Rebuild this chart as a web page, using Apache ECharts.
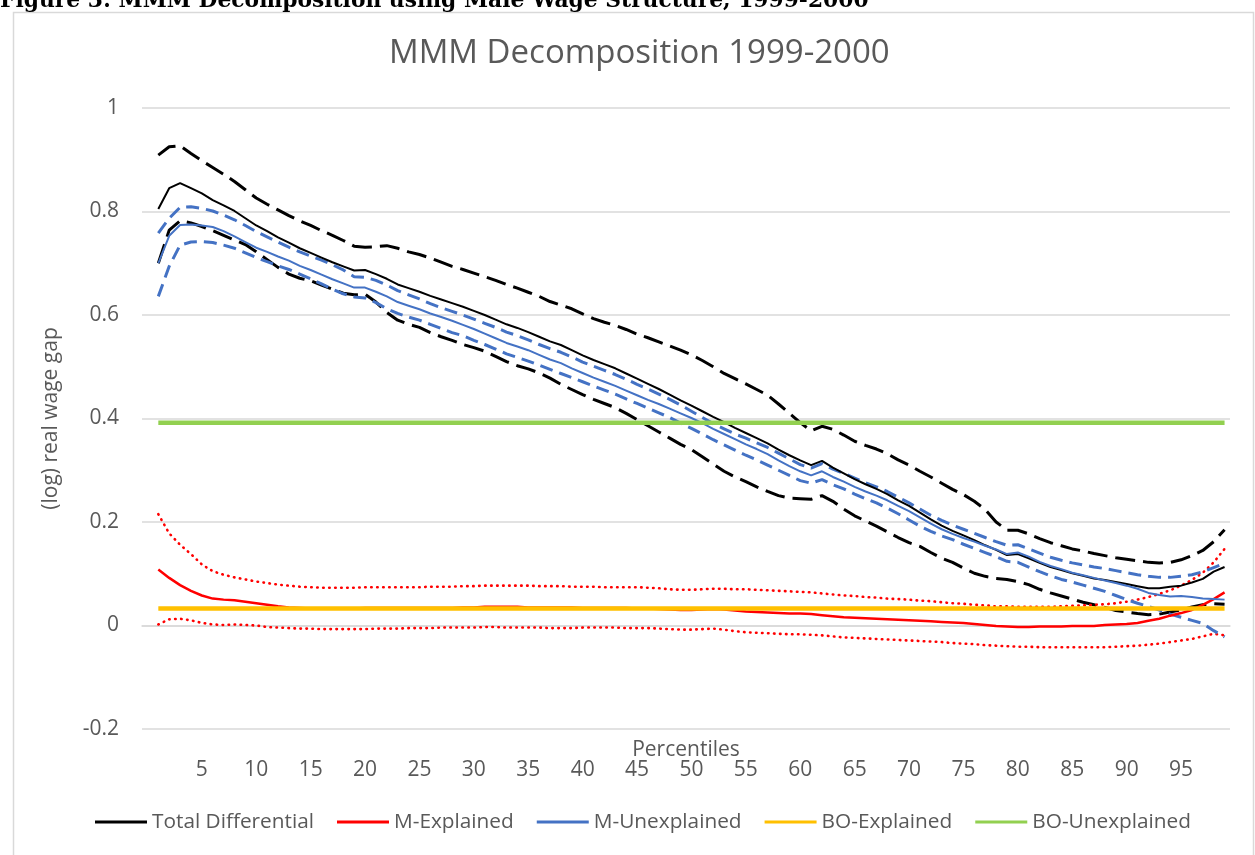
<!DOCTYPE html>
<html>
<head>
<meta charset="utf-8">
<script src="https://cdn.jsdelivr.net/npm/echarts@6/dist/echarts.min.js"></script>
<style>
html,body{margin:0;padding:0;background:#fff;}
#wrap{position:relative;width:1255px;height:855px;overflow:hidden;}
#chart{position:absolute;left:0;top:0;width:1255px;height:855px;}
#caption{position:absolute;left:0;top:-11px;font-family:"DejaVu Serif",serif;font-weight:bold;font-size:21.8px;line-height:22px;color:#000;white-space:nowrap;z-index:2;}
</style>
</head>
<body>
<div id="wrap">
<div id="chart"></div>
<div id="caption">Figure 3: MMM Decomposition using Male Wage Structure, 1999-2000</div>
</div>
<script>
const chartTitle = 'MMM Decomposition 1999-2000';
const yAxisTitle = '(log) real wage gap';
const xAxisTitle = 'Percentiles';
const percentiles = [1,2,3,4,5,6,7,8,9,10,11,12,13,14,15,16,17,18,19,20,21,22,23,24,25,26,27,28,29,30,31,32,33,34,35,36,37,38,39,40,41,42,43,44,45,46,47,48,49,50,51,52,53,54,55,56,57,58,59,60,61,62,63,64,65,66,67,68,69,70,71,72,73,74,75,76,77,78,79,80,81,82,83,84,85,86,87,88,89,90,91,92,93,94,95,96,97,98,99];
const xTickLabels = ['5','10','15','20','25','30','35','40','45','50','55','60','65','70','75','80','85','90','95'];

const totalDiff = [0.805,0.845,0.855,0.845,0.835,0.822,0.812,0.801,0.787,0.773,
0.762,0.750,0.740,0.729,0.720,0.711,0.702,0.694,0.686,0.687,
0.679,0.670,0.659,0.652,0.645,0.637,0.630,0.623,0.616,0.608,
0.600,0.591,0.582,0.575,0.567,0.558,0.549,0.542,0.532,0.522,
0.513,0.505,0.497,0.487,0.477,0.467,0.457,0.446,0.435,0.425,
0.414,0.403,0.393,0.382,0.372,0.362,0.352,0.340,0.329,0.319,
0.310,0.318,0.305,0.294,0.283,0.273,0.264,0.254,0.242,0.231,
0.218,0.205,0.193,0.183,0.174,0.165,0.155,0.146,0.136,0.138,
0.130,0.121,0.113,0.107,0.101,0.096,0.091,0.088,0.084,0.080,
0.076,0.072,0.072,0.075,0.077,0.083,0.090,0.104,0.113];

const totalUpper = [0.909,0.925,0.927,0.912,0.898,0.885,0.872,0.858,0.842,0.826,
0.814,0.803,0.792,0.782,0.773,0.763,0.754,0.744,0.733,0.731,
0.732,0.734,0.729,0.722,0.717,0.710,0.702,0.694,0.688,0.681,
0.674,0.667,0.659,0.652,0.644,0.636,0.626,0.619,0.612,0.602,
0.593,0.586,0.580,0.572,0.563,0.556,0.548,0.540,0.532,0.523,
0.512,0.500,0.487,0.477,0.467,0.456,0.445,0.428,0.410,0.392,
0.376,0.385,0.379,0.368,0.356,0.348,0.341,0.332,0.320,0.310,
0.298,0.287,0.275,0.263,0.253,0.240,0.224,0.200,0.184,0.184,
0.177,0.168,0.160,0.154,0.148,0.144,0.139,0.135,0.131,0.128,
0.125,0.122,0.121,0.122,0.127,0.135,0.145,0.162,0.185];

const totalLower = [0.700,0.764,0.782,0.778,0.771,0.763,0.754,0.745,0.736,0.722,
0.707,0.692,0.679,0.671,0.666,0.658,0.650,0.642,0.639,0.640,
0.625,0.605,0.590,0.582,0.576,0.566,0.558,0.551,0.543,0.537,
0.530,0.520,0.510,0.502,0.496,0.488,0.478,0.466,0.456,0.446,
0.437,0.429,0.421,0.410,0.398,0.386,0.374,0.362,0.350,0.340,
0.326,0.312,0.298,0.287,0.278,0.268,0.259,0.251,0.246,0.245,
0.244,0.251,0.240,0.225,0.212,0.202,0.192,0.181,0.170,0.160,
0.153,0.141,0.130,0.122,0.111,0.101,0.095,0.091,0.089,0.085,
0.079,0.070,0.063,0.057,0.051,0.045,0.040,0.035,0.029,0.026,
0.023,0.021,0.022,0.026,0.030,0.036,0.040,0.042,0.041];

const mExplained = [0.108,0.092,0.078,0.067,0.058,0.052,0.050,0.049,0.046,0.043,
0.040,0.037,0.035,0.034,0.033,0.033,0.033,0.033,0.033,0.034,
0.034,0.034,0.034,0.034,0.034,0.034,0.034,0.034,0.035,0.035,
0.036,0.036,0.036,0.036,0.035,0.035,0.035,0.035,0.035,0.034,
0.034,0.034,0.034,0.034,0.033,0.033,0.032,0.031,0.030,0.030,
0.031,0.032,0.031,0.029,0.027,0.026,0.025,0.024,0.023,0.023,
0.022,0.020,0.018,0.016,0.015,0.014,0.013,0.012,0.011,0.010,
0.009,0.008,0.007,0.006,0.005,0.003,0.001,-0.001,-0.002,-0.003,
-0.003,-0.002,-0.002,-0.002,-0.001,-0.001,-0.001,0.001,0.002,0.003,
0.005,0.009,0.013,0.019,0.024,0.030,0.040,0.051,0.064];

const mExplUpper = [0.215,0.178,0.156,0.138,0.118,0.105,0.098,0.093,0.089,0.085,
0.082,0.079,0.077,0.075,0.074,0.073,0.073,0.073,0.073,0.074,
0.074,0.074,0.074,0.074,0.074,0.075,0.075,0.075,0.076,0.076,
0.077,0.077,0.077,0.077,0.077,0.076,0.076,0.076,0.075,0.075,
0.075,0.074,0.074,0.074,0.074,0.073,0.072,0.070,0.069,0.069,
0.070,0.071,0.071,0.070,0.070,0.069,0.068,0.067,0.066,0.065,
0.064,0.062,0.060,0.058,0.057,0.055,0.054,0.052,0.051,0.050,
0.048,0.047,0.045,0.043,0.042,0.040,0.039,0.037,0.037,0.036,
0.036,0.036,0.036,0.037,0.038,0.039,0.040,0.041,0.043,0.046,
0.050,0.055,0.061,0.068,0.077,0.088,0.102,0.122,0.148];

const mExplLower = [0.002,0.012,0.013,0.010,0.005,0.002,0.001,0.002,0.001,0.000,
-0.003,-0.004,-0.005,-0.006,-0.006,-0.007,-0.007,-0.007,-0.007,-0.007,
-0.006,-0.006,-0.006,-0.005,-0.005,-0.005,-0.004,-0.004,-0.004,-0.004,
-0.003,-0.003,-0.004,-0.004,-0.004,-0.004,-0.005,-0.005,-0.005,-0.004,
-0.004,-0.004,-0.004,-0.005,-0.005,-0.005,-0.006,-0.007,-0.008,-0.008,
-0.007,-0.006,-0.008,-0.011,-0.013,-0.014,-0.015,-0.016,-0.017,-0.017,
-0.018,-0.019,-0.021,-0.023,-0.024,-0.025,-0.026,-0.027,-0.028,-0.029,
-0.030,-0.031,-0.032,-0.034,-0.035,-0.036,-0.038,-0.039,-0.040,-0.041,
-0.041,-0.042,-0.042,-0.042,-0.042,-0.042,-0.042,-0.042,-0.041,-0.040,
-0.039,-0.037,-0.035,-0.032,-0.029,-0.026,-0.021,-0.016,-0.019];

const mUnexplained = [0.700,0.753,0.774,0.775,0.773,0.770,0.762,0.752,0.741,0.730,
0.722,0.713,0.705,0.695,0.687,0.678,0.669,0.661,0.653,0.653,
0.645,0.636,0.625,0.618,0.611,0.603,0.596,0.589,0.581,0.573,
0.564,0.555,0.546,0.539,0.532,0.523,0.514,0.507,0.497,0.488,
0.479,0.471,0.463,0.454,0.445,0.436,0.428,0.419,0.410,0.401,
0.391,0.380,0.370,0.360,0.350,0.341,0.331,0.319,0.308,0.298,
0.290,0.298,0.287,0.278,0.268,0.259,0.251,0.242,0.231,0.221,
0.209,0.197,0.186,0.177,0.169,0.162,0.154,0.147,0.138,0.141,
0.133,0.123,0.115,0.109,0.102,0.097,0.092,0.087,0.082,0.077,
0.071,0.063,0.059,0.056,0.057,0.055,0.052,0.051,0.050];

const mUnexplUpper = [0.758,0.787,0.808,0.809,0.806,0.801,0.793,0.784,0.773,0.761,
0.751,0.741,0.731,0.722,0.714,0.706,0.697,0.687,0.674,0.673,
0.667,0.658,0.647,0.639,0.631,0.622,0.614,0.607,0.600,0.592,
0.584,0.576,0.567,0.560,0.552,0.543,0.535,0.528,0.519,0.509,
0.501,0.493,0.485,0.476,0.466,0.457,0.447,0.437,0.426,0.414,
0.402,0.390,0.380,0.370,0.362,0.353,0.344,0.333,0.322,0.311,
0.304,0.313,0.302,0.294,0.285,0.276,0.268,0.259,0.248,0.237,
0.225,0.213,0.203,0.194,0.186,0.178,0.170,0.162,0.155,0.156,
0.148,0.140,0.132,0.126,0.121,0.117,0.113,0.110,0.106,0.102,
0.098,0.095,0.093,0.093,0.095,0.098,0.104,0.112,0.120];

const mUnexplLower = [0.636,0.694,0.735,0.741,0.742,0.740,0.735,0.729,0.720,0.711,
0.703,0.695,0.688,0.679,0.670,0.660,0.650,0.641,0.635,0.633,
0.624,0.612,0.603,0.596,0.590,0.582,0.574,0.566,0.560,0.551,
0.543,0.534,0.525,0.518,0.511,0.503,0.495,0.487,0.479,0.471,
0.463,0.455,0.447,0.438,0.429,0.420,0.411,0.402,0.391,0.381,
0.370,0.359,0.349,0.339,0.329,0.320,0.310,0.300,0.290,0.280,
0.275,0.282,0.272,0.264,0.254,0.245,0.237,0.227,0.216,0.204,
0.192,0.182,0.173,0.166,0.157,0.149,0.141,0.133,0.124,0.122,
0.113,0.104,0.096,0.089,0.084,0.078,0.072,0.066,0.058,0.050,
0.043,0.037,0.030,0.022,0.016,0.010,0.004,-0.010,-0.022];

const boExplainedValue = 0.033;
const boUnexplainedValue = 0.392;
const boExplained = percentiles.map(() => boExplainedValue);
const boUnexplained = percentiles.map(() => boUnexplainedValue);

// category axis: one leading empty slot, then percentiles 1..99
const categories = [''].concat(percentiles.map(String));
const pad = arr => [null].concat(arr);

const TXT = '#595959';
const FONT = '"Open Sans", sans-serif';
const BLUE = '#4472C4';

function lineSeries(name, data, color, width, type, cap) {
  return {
    name: name, type: 'line', data: pad(data), symbol: 'none', silent: true,
    lineStyle: { color: color, width: width, type: type, cap: cap || 'butt' },
    itemStyle: { color: color }, animation: false
  };
}

const chart = echarts.init(document.getElementById('chart'), null, { renderer: 'canvas' });
chart.setOption({
  animation: false,
  backgroundColor: '#ffffff',
  title: {
    text: chartTitle, left: 384, top: 32,
    textStyle: { color: TXT, fontFamily: FONT, fontSize: 33, fontWeight: 'normal' }
  },
  graphic: [{
    type: 'rect', silent: true, z: -1,
    shape: { x: 13.5, y: 12.5, width: 1240, height: 860 },
    style: { fill: 'none', stroke: '#d9d9d9', lineWidth: 1.5 }
  }, {
    type: 'text', silent: true, x: 686, y: 750,
    style: { text: xAxisTitle, fill: TXT, font: '21px "Open Sans", sans-serif',
      textAlign: 'center', textVerticalAlign: 'middle' }
  }],
  grid: { left: 142, right: 25, top: 108, bottom: 126, containLabel: false, outerBoundsMode: 'none' },
  legend: {
    left: 90, top: 804, itemGap: 23, itemWidth: 52, itemHeight: 3, icon: 'rect',
    textStyle: { color: TXT, fontFamily: FONT, fontSize: 20.8, lineHeight: 26 },
    data: ['Total Differential', 'M-Explained', 'M-Unexplained', 'BO-Explained', 'BO-Unexplained']
  },
  xAxis: {
    type: 'category', data: categories, boundaryGap: true,
    axisLine: { onZero: true, lineStyle: { color: '#d9d9d9', width: 1.5 } },
    axisTick: { show: false },
    axisLabel: {
      color: TXT, fontFamily: FONT, fontSize: 21, margin: 31,
      interval: (idx, val) => xTickLabels.indexOf(val) >= 0
    },
    splitLine: { show: false }
  },
  yAxis: {
    type: 'value', min: -0.2, max: 1, interval: 0.2,
    name: yAxisTitle, nameLocation: 'middle', nameGap: 80, nameRotate: 90,
    nameTextStyle: { color: TXT, fontFamily: FONT, fontSize: 21 },
    axisLine: { show: false }, axisTick: { show: false },
    axisLabel: { color: TXT, fontFamily: FONT, fontSize: 21, margin: 23,
      formatter: v => String(Math.round(v * 10) / 10) },
    splitLine: { lineStyle: { color: '#d9d9d9', width: 1.5 } }
  },
  series: [
    lineSeries('Total Upper', totalUpper, '#000000', 3, [20, 8]),
    lineSeries('Total Lower', totalLower, '#000000', 3, [20, 8]),
    lineSeries('M-Explained Upper', mExplUpper, '#FF0000', 2.6, [0.5, 5.5], 'round'),
    lineSeries('M-Explained Lower', mExplLower, '#FF0000', 2.6, [0.5, 5.5], 'round'),
    lineSeries('M-Unexplained Upper', mUnexplUpper, BLUE, 3, [13, 7]),
    lineSeries('M-Unexplained Lower', mUnexplLower, BLUE, 3, [13, 7]),
    lineSeries('Total Differential', totalDiff, '#000000', 2, 'solid'),
    lineSeries('M-Explained', mExplained, '#FF0000', 2.5, 'solid'),
    lineSeries('M-Unexplained', mUnexplained, BLUE, 2, 'solid'),
    lineSeries('BO-Explained', boExplained, '#FFC000', 4.5, 'solid'),
    lineSeries('BO-Unexplained', boUnexplained, '#92D050', 4.5, 'solid')
  ]
});
</script>
</body>
</html>
